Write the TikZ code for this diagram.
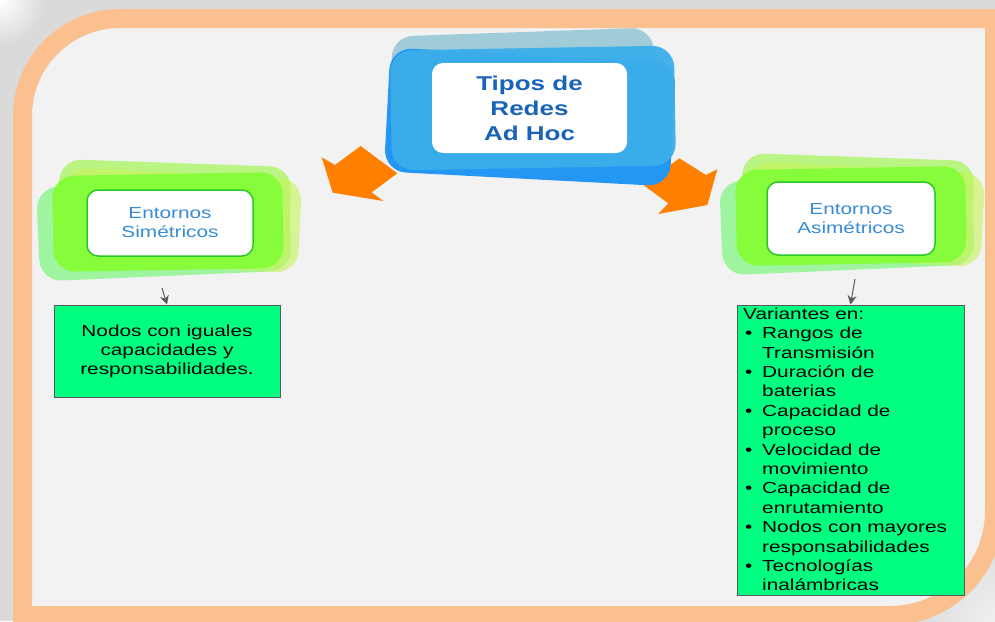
\documentclass[tikz,border=0pt]{standalone}
\usepackage{fontspec}
\setmainfont{Liberation Sans}[FakeStretch=1.3]
\usetikzlibrary{arrows.meta,calc}
\definecolor{peach}{RGB}{250,192,143}
\definecolor{innerbg}{RGB}{242,242,242}
\definecolor{shadowgray}{RGB}{218,218,218}
\definecolor{bluemain}{RGB}{60,174,234}
\definecolor{bluedeep}{RGB}{36,150,243}
\definecolor{blueteal}{RGB}{160,204,218}
\definecolor{titleblue}{RGB}{25,100,185}
\definecolor{greenmain}{RGB}{135,252,59}
\definecolor{greenlime}{RGB}{180,245,120}
\definecolor{greenlight}{RGB}{150,245,150}
\definecolor{greenyellow}{RGB}{200,245,90}
\definecolor{greenborder}{RGB}{40,200,40}
\definecolor{entblue}{RGB}{55,140,215}
\definecolor{notegreen}{RGB}{0,255,128}
\definecolor{notegray}{RGB}{90,90,90}
\definecolor{arroworange}{RGB}{255,128,0}
\tikzset{
  blob/.style={rounded corners=22pt, inner sep=0pt, draw=none},
  whitebox/.style={fill=white, rounded corners=11pt, inner sep=0pt, align=center},
  entbox/.style={whitebox, draw=greenborder, line width=1.5pt, text=entblue,
    font=\fontsize{16}{19}\selectfont},
  notebox/.style={fill=notegreen, draw=notegray, line width=1pt, inner sep=0pt,
    align=center, font=\fontsize{16}{19}\selectfont},
  smallarrow/.style={draw=notegray, line width=1pt, -{Stealth[length=9pt,width=9pt]}},
  blockarrow/.style={fill=arroworange}
}
\newcommand{\greencluster}[2]{%
  \node[blob, fill=greenlight, fill opacity=0.9, minimum width=252pt, minimum height=94pt, rotate=2.5] (#2a) at ($(#1)+(-4,9)$) {};
  \node[blob, fill=greenlime, fill opacity=0.9, minimum width=232pt, minimum height=102pt, rotate=-2] (#2b) at ($(#1)+(6,-6)$) {};
  \node[blob, fill=greenyellow, fill opacity=0.6, minimum width=236pt, minimum height=94pt, rotate=-3] (#2c) at ($(#1)+(14,0)$) {};
  \node[blob, fill=greenmain, minimum width=230pt, minimum height=96pt, rotate=1] (#2d) at ($(#1)+(0,2)$) {};
}
\begin{document}
\begin{tikzpicture}[x=1pt,y=-1pt]
\useasboundingbox (0,0) rectangle (995,621);
\clip (0,0) rectangle (995,621);
% shadow background
\fill[shadowgray] (0,0) rectangle (995,621);
\shade[inner color=white, outer color=shadowgray] (0,0) circle (45);
\shade[inner color=white!60!shadowgray, outer color=shadowgray] (995,621) circle (90);
% frame
\filldraw[fill=innerbg, draw=peach, line width=19pt]
  (22.5,615.5) -- (22.5,116) arc[start angle=180, end angle=270, radius=97.5]
  -- (994.5,18.5) -- (994.5,511) arc[start angle=0, end angle=90, radius=104.5]
  -- cycle;
% orange block arrows
\fill[blockarrow] (321.7,157.3) -- (335,165) -- (360.7,146) -- (397.3,173.3)
  -- (371.7,192.3) -- (383.3,201) -- (332.7,192.7) -- cycle;
\fill[blockarrow] (643.3,185) -- (679.3,158.3) -- (706,175) -- (717.3,169.3)
  -- (707.3,205) -- (658.3,214) -- (668.3,203.3) -- cycle;
% blue cluster
\node[blob, fill=blueteal, minimum width=262pt, minimum height=120pt, rotate=2] (tb1) at (524,92) {};
\node[blob, fill=bluedeep, minimum width=286pt, minimum height=124pt, rotate=-3] (tb2) at (530,117) {};
\node[blob, fill=bluemain, fill opacity=0.95, minimum width=284pt, minimum height=120pt, rotate=1] (tb3) at (533,108) {};
\node[whitebox, minimum width=195pt, minimum height=90pt, text=titleblue,
  font=\fontsize{20}{25}\selectfont\bfseries] (title) at (529.5,108) {Tipos de\\Redes\\Ad Hoc};
% green clusters
\coordinate (cl) at (168,220);
\coordinate (cr) at (851,214);
\greencluster{cl}{gl}
\greencluster{cr}{gr}
\node[entbox, minimum width=166pt, minimum height=66pt] (sym) at (170,223) {Entornos\\Simétricos};
\node[entbox, minimum width=168pt, minimum height=73pt] (asym) at (851,218.5) {Entornos\\Asimétricos};
% note boxes
\node[notebox, minimum width=226pt, minimum height=92pt] (boxL) at (167,351)
  {Nodos con iguales\\capacidades y\\responsabilidades.};
\node[notebox, minimum width=227pt, minimum height=290pt] (boxR) at (850.5,450) {};
\node[anchor=north west, inner sep=0pt, align=left,
  font=\fontsize{16}{19.4}\selectfont] (listR) at (743,307.5) {%
Variantes en:\\
\makebox[19pt][l]{\hspace{2pt}\textbullet}Rangos de\\
\hspace*{19pt}Transmisión\\
\makebox[19pt][l]{\hspace{2pt}\textbullet}Duración de\\
\hspace*{19pt}baterias\\
\makebox[19pt][l]{\hspace{2pt}\textbullet}Capacidad de\\
\hspace*{19pt}proceso\\
\makebox[19pt][l]{\hspace{2pt}\textbullet}Velocidad de\\
\hspace*{19pt}movimiento\\
\makebox[19pt][l]{\hspace{2pt}\textbullet}Capacidad de\\
\hspace*{19pt}enrutamiento\\
\makebox[19pt][l]{\hspace{2pt}\textbullet}Nodos con mayores\\
\hspace*{19pt}responsabilidades\\
\makebox[19pt][l]{\hspace{2pt}\textbullet}Tecnologías\\
\hspace*{19pt}inalámbricas};
% small connectors
\coordinate (s1) at (162,288);
\coordinate (s2) at (855,279);
\draw[smallarrow] (s1) -- (boxL.north);
\draw[smallarrow] (s2) -- (boxR.north);
\end{tikzpicture}
\end{document}
